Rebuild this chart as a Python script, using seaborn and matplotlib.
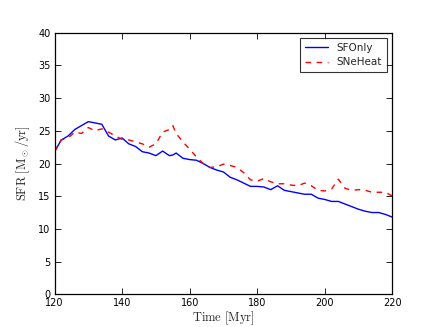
import matplotlib
matplotlib.use("Agg")
import matplotlib.pyplot as plt
import seaborn as sns
import pandas as pd

time_myr = [120, 122, 124, 126, 128, 130, 132, 134, 136, 138, 140, 142, 144, 146, 148,
            150, 152, 154, 155, 156, 158, 160, 162, 164, 166, 168, 170, 172, 174, 176,
            178, 180, 182, 184, 186, 188, 190, 192, 194, 196, 198, 200, 202, 204, 205,
            206, 208, 210, 212, 214, 216, 218, 220]

sfr_sfonly = [21.8, 23.6, 24.2, 25.2, 25.8, 26.4, 26.2, 26.0, 24.2, 23.6, 23.9, 23.0, 22.6, 21.8, 21.6,
              21.2, 21.9, 21.2, 21.3, 21.6, 20.8, 20.6, 20.5, 20.0, 19.4, 19.0, 18.7, 17.9, 17.5, 17.0,
              16.5, 16.5, 16.4, 16.0, 16.6, 15.9, 15.7, 15.5, 15.3, 15.3, 14.7, 14.5, 14.2, 14.2, 14.0,
              13.8, 13.4, 13.0, 12.7, 12.5, 12.5, 12.2, 11.8]

sfr_sneheat = [21.8, 23.6, 23.9, 24.8, 24.6, 25.5, 25.0, 25.3, 24.8, 24.2, 23.7, 23.6, 23.3, 23.0, 22.5,
               23.0, 24.8, 25.2, 25.8, 24.6, 23.3, 22.2, 21.0, 20.0, 19.4, 19.5, 19.9, 19.7, 19.4, 18.6,
               17.5, 17.3, 17.7, 17.2, 16.9, 16.9, 16.7, 16.6, 17.0, 16.6, 15.9, 15.8, 16.1, 17.6, 16.9,
               16.2, 15.9, 16.0, 15.9, 15.6, 15.6, 15.6, 15.0]

series_names = ["SFOnly", "SNeHeat"]
x_ticks = [120, 140, 160, 180, 200, 220]
y_ticks = [0, 5, 10, 15, 20, 25, 30, 35, 40]

sns.set_style("white")
plt.rcParams.update({
    "font.family": ["DejaVu Sans"],
    "mathtext.fontset": "cm",
    "xtick.direction": "in",
    "ytick.direction": "in",
    "xtick.top": True,
    "ytick.right": True,
    "xtick.bottom": True,
    "ytick.left": True,
    "xtick.major.size": 4,
    "ytick.major.size": 4,
    "xtick.major.width": 0.6,
    "ytick.major.width": 0.6,
    "axes.edgecolor": "black",
    "axes.linewidth": 0.9,
})

fig = plt.figure(figsize=(4.36, 3.27), dpi=100)
ax = fig.add_axes([0.125, 0.1, 0.775, 0.8])

df_a = pd.DataFrame({"t": time_myr, "sfr": sfr_sfonly})
df_b = pd.DataFrame({"t": time_myr, "sfr": sfr_sneheat})
sns.lineplot(data=df_a, x="t", y="sfr", ax=ax, color=(0, 0, 1), lw=1.0,
             label=series_names[0])
sns.lineplot(data=df_b, x="t", y="sfr", ax=ax, color=(1, 0, 0), lw=1.0,
             linestyle="--", dashes=False, label=series_names[1])
ax.lines[1].set_dashes([4, 4])

ax.set_xlim(120, 220)
ax.set_ylim(0, 40)
ax.set_xticks(x_ticks)
ax.set_yticks(y_ticks)
ax.tick_params(labelsize=7, pad=3, colors="black")
ax.set_xlabel(r"$\mathrm{Time\ [Myr]}$", fontsize=9, labelpad=1)
ax.set_ylabel(r"$\mathrm{SFR\ [M_\odot/yr]}$", fontsize=9, labelpad=4)

leg = ax.legend(loc="upper right", fontsize=7.5, frameon=True, fancybox=False,
                edgecolor="black", handlelength=2.2, borderpad=0.5, labelspacing=0.4)
leg.get_frame().set_linewidth(0.8)
for l in leg.get_lines():
    l.set_linewidth(1.0)
leg.get_lines()[1].set_dashes([4, 4])

fig.savefig("out.png", dpi=100)
